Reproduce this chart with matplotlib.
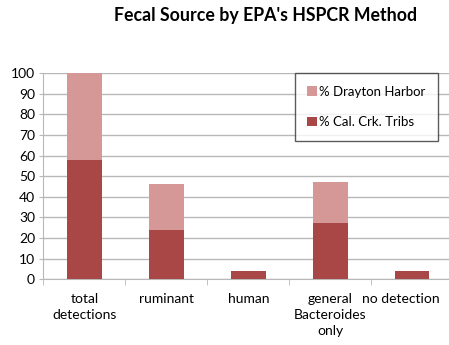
import matplotlib.pyplot as plt
import matplotlib.transforms as mtransforms
import numpy as np

categories = ["total\ndetections", "ruminant", "human", "general\nBacteroides\nonly", "no detection"]
cal_crk = [58, 24, 4, 27, 4]
drayton = [42, 22, 0, 20, 0]

DARK = "#A84745"
LIGHT = "#D59896"
GRID = "#B8B8B8"

plt.rcParams["font.family"] = ["Lato", "DejaVu Sans"]

fig = plt.figure(figsize=(4.49, 3.45), dpi=100)
ax = fig.add_axes([0.0965, 0.191, 0.913, 0.597])

x = np.arange(len(categories))
ax.bar(x, cal_crk, width=0.42, color=DARK, label="% Cal. Crk. Tribs", zorder=3)
ax.bar(x, drayton, width=0.42, bottom=cal_crk, color=LIGHT, label="% Drayton Harbor", zorder=3)

ax.set_xlim(-0.5, len(categories) - 0.5)
ax.set_ylim(0, 100)
ax.set_yticks(range(0, 101, 10))
ax.yaxis.grid(True, color=GRID, linewidth=1.0, zorder=0)
ax.tick_params(axis="y", length=3, color=GRID, labelsize=10, pad=3)

# category labels centred under bars, tick marks on the boundaries
ax.set_xticks(x)
ax.set_xticklabels(categories, fontsize=10, linespacing=1.4)
ax.tick_params(axis="x", length=0, pad=10)
last = ax.get_xticklabels()[-1]
last.set_transform(last.get_transform() +
                   mtransforms.ScaledTranslation(-8 / 72, 0, fig.dpi_scale_trans))
ax.set_xticks(np.arange(len(categories) + 1) - 0.5, minor=True)
ax.tick_params(axis="x", which="minor", length=4, color=GRID)

for s in ["top", "right"]:
    ax.spines[s].set_visible(False)
for s in ["left", "bottom"]:
    ax.spines[s].set_color(GRID)

handles, labels = ax.get_legend_handles_labels()
leg = ax.legend(handles[::-1], labels[::-1], loc="upper right",
                bbox_to_anchor=(438 / 449, 1 - 73 / 345),
                bbox_transform=fig.transFigure, fontsize=9.5, frameon=True,
                fancybox=False, edgecolor="#333333", handlelength=0.7,
                handleheight=0.7, handletextpad=0.2, labelspacing=1.4,
                borderpad=0.95, borderaxespad=0)
leg.get_frame().set_linewidth(1.0)

fig.text(0.592, 0.955, "Fecal Source by EPA's HSPCR Method", ha="center",
         va="center", fontsize=12.8, fontweight="bold")

fig.savefig("out.png", dpi=100, facecolor="white")
